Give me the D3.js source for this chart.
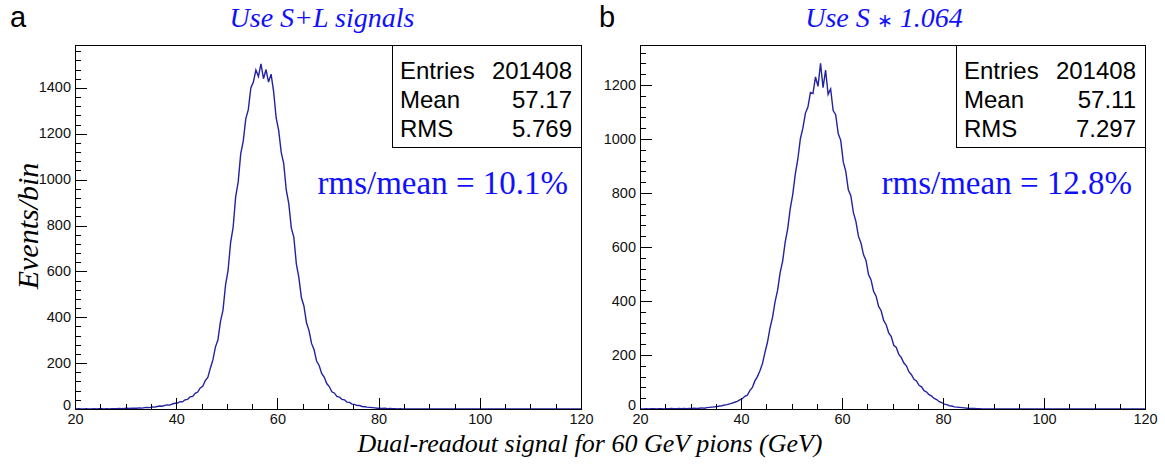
<!DOCTYPE html>
<html>
<head>
<meta charset="utf-8">
<script src="https://cdn.jsdelivr.net/npm/d3@7/dist/d3.min.js"></script>
<style>
  body { margin: 0; background: #fff; }
  .sans { font-family: "Liberation Sans", Arial, Helvetica, sans-serif; }
  .serif { font-family: "Liberation Serif", "Times New Roman", serif; }
</style>
</head>
<body>
<svg id="chart" width="1165" height="466"></svg>
<script>
'use strict';

// histogram binning (GeV)
const binStart = 20;
const binWidth = 0.5;
const xTicks = [20, 40, 60, 80, 100, 120];

// panel a : S+L signals, counts per 0.5 GeV bin starting at 20 GeV
const countsSL = [
  0, 1, 0, 0, 1, 0, 0, 1, 0, 1, 1, 0, 1, 0, 1, 1,
  1, 2, 1, 2, 3, 2, 3, 4, 3, 5,
  4, 6, 7, 6, 9, 8, 11, 13, 12, 16,
  18, 17, 22, 25, 26, 32, 31, 40, 42, 53,
  55, 68, 74, 92, 99, 124, 138, 178, 214, 270,
  302, 382, 431, 540, 604, 725, 792, 925, 990, 1112,
  1168, 1265, 1305, 1400, 1425, 1478, 1450, 1505, 1440, 1480,
  1425, 1460, 1385, 1270, 1215, 1120, 1070, 955, 895, 790,
  748, 632, 572, 485, 448, 376, 342, 286, 258, 209,
  190, 155, 139, 111, 98, 75, 70, 55, 52, 42,
  40, 30, 29, 21, 20, 15, 15, 11, 10, 8,
  7, 6, 5, 3, 4, 2, 3, 1, 2, 1,
  1, 0, 1, 0
];
const yTicksSL = [0, 200, 400, 600, 800, 1000, 1200, 1400];
const yMaxSL = 1587;
const statsSL = [['Entries', '201408'], ['Mean', '57.17'], ['RMS', '5.769']];

// panel b : S * 1.064
const countsS = [
  0, 0, 1, 0, 1, 1, 0, 1, 1, 0, 1, 1, 2, 1, 1, 2,
  1, 2, 1, 2, 2, 3, 2, 3, 4, 3,
  5, 6, 7, 8, 9, 11, 12, 15, 16, 19,
  22, 25, 28, 34, 38, 47, 51, 68, 80, 104,
  120, 142, 168, 210, 248, 300, 340, 398, 440, 505,
  548, 618, 668, 742, 795, 870, 925, 1000, 1040, 1095,
  1118, 1172, 1168, 1230, 1195, 1280, 1190, 1255, 1165, 1185,
  1105, 1090, 1020, 995, 915, 880, 812, 790, 728, 695,
  640, 615, 572, 550, 498, 478, 436, 418, 380, 364,
  328, 312, 282, 268, 236, 228, 202, 190, 170, 160,
  138, 127, 110, 104, 88, 82, 68, 63, 53, 48,
  39, 35, 27, 24, 18, 16, 12, 11, 8, 7,
  6, 5, 4, 3, 2, 2, 2, 1, 1, 0
];
const yTicksS = [0, 200, 400, 600, 800, 1000, 1200];
const yMaxS = 1348;
const statsS = [['Entries', '201408'], ['Mean', '57.11'], ['RMS', '7.297']];

const panels = [
  { letter: 'a', title: ['Use S+L signals'], ratio: 'rms/mean = 10.1%',
    counts: countsSL, yTicks: yTicksSL, yMax: yMaxSL, stats: statsSL, x0: 75, x1: 581, lx: 10, tx: 322 },
  { letter: 'b', title: ['Use S ', '\u2217', ' 1.064'], ratio: 'rms/mean = 12.8%',
    counts: countsS, yTicks: yTicksS, yMax: yMaxS, stats: statsS, x0: 640, x1: 1145, lx: 599, tx: 884 }
];

const frameTop = 45, frameBottom = 409;
const histColor = '#2222a2';
const textBlue = '#1010ff';

const $svg = d3.select('#chart');

const drawPanel = (p) => {
  const $g = $svg.append('g');
  const x = d3.scaleLinear().domain([20, 120]).range([p.x0, p.x1]);
  const y = d3.scaleLinear().domain([0, p.yMax]).range([frameBottom, frameTop]);

  // frame
  $g.append('rect')
    .attr('x', p.x0).attr('y', frameTop)
    .attr('width', p.x1 - p.x0).attr('height', frameBottom - frameTop)
    .attr('fill', 'none').attr('stroke', '#000').attr('stroke-width', 1)
    .attr('shape-rendering', 'crispEdges');

  // histogram outline (through bin centres, fine bins look like a jagged line)
  const pts = [[20, 0]];
  p.counts.forEach((c, i) => {
    pts.push([binStart + (i + 0.5) * binWidth, c]);
  });
  pts.push([binStart + p.counts.length * binWidth, 0], [120, 0]);
  const line = d3.line().x((d) => x(d[0])).y((d) => y(d[1]));
  $g.append('path')
    .attr('d', line(pts))
    .attr('fill', 'none')
    .attr('stroke', histColor)
    .attr('stroke-width', 1.4)
    .attr('stroke-linejoin', 'miter');

  // x axis
  const $xMinor = $g.append('g').attr('transform', 'translate(0,' + frameBottom + ')')
    .call(d3.axisBottom(x).tickValues(d3.range(20, 121, 5)).tickSize(-5.5).tickFormat(''));
  const $xMajor = $g.append('g').attr('transform', 'translate(0,' + frameBottom + ')')
    .call(d3.axisBottom(x).tickValues(xTicks).tickSize(-11).tickPadding(5).tickFormat(d3.format('d')));

  // y axis
  const $yMinor = $g.append('g').attr('transform', 'translate(' + p.x0 + ',0)')
    .call(d3.axisLeft(y).tickValues(d3.range(0, p.yMax, 40)).tickSize(-6).tickFormat(''));
  const $yMajor = $g.append('g').attr('transform', 'translate(' + p.x0 + ',0)')
    .call(d3.axisLeft(y).tickValues(p.yTicks).tickSize(-12).tickPadding(4).tickFormat(d3.format('d')));

  [$xMinor, $xMajor, $yMinor, $yMajor].forEach(($a) => {
    $a.select('.domain').remove();
    $a.selectAll('line').attr('stroke', '#000').attr('shape-rendering', 'crispEdges');
    $a.selectAll('text')
      .attr('class', 'sans')
      .attr('font-size', 14.5)
      .attr('fill', '#111');
  });
  $yMajor.selectAll('text').attr('dy', (d) => d === 0 ? '0.05em' : '0.28em');
  $g.append('line')
    .attr('x1', p.x0).attr('x2', p.x1).attr('y1', frameBottom).attr('y2', frameBottom)
    .attr('stroke', '#000').attr('shape-rendering', 'crispEdges');

  // stats box
  const bw = 189, bh = 102;
  $g.append('rect')
    .attr('x', p.x1 - bw).attr('y', frameTop)
    .attr('width', bw).attr('height', bh)
    .attr('fill', '#fff').attr('stroke', '#000')
    .attr('shape-rendering', 'crispEdges');
  p.stats.forEach((s, i) => {
    const by = 79 + i * 29;
    $g.append('text').attr('class', 'sans')
      .attr('x', p.x1 - bw + 8).attr('y', by)
      .attr('font-size', 24).text(s[0]);
    $g.append('text').attr('class', 'sans')
      .attr('x', p.x1 - 9).attr('y', by)
      .attr('text-anchor', 'end')
      .attr('font-size', 24).text(s[1]);
  });

  // ratio text
  $g.append('text').attr('class', 'serif')
    .attr('x', p.x1 - 13).attr('y', 194)
    .attr('text-anchor', 'end')
    .attr('font-size', 33)
    .attr('fill', textBlue)
    .text(p.ratio);

  // title (the operator glyph is set smaller)
  const $title = $g.append('text').attr('class', 'serif')
    .attr('x', p.tx).attr('y', 27)
    .attr('text-anchor', 'middle')
    .attr('font-size', 28)
    .attr('font-style', 'italic')
    .attr('fill', textBlue);
  p.title.forEach((part) => {
    const $t = $title.append('tspan').text(part);
    if (part === '\u2217') $t.attr('font-size', 19).attr('font-style', 'normal');
  });

  // panel letter
  $g.append('text').attr('class', 'sans')
    .attr('x', p.lx).attr('y', 27)
    .attr('font-size', 29)
    .text(p.letter);
};

panels.forEach(drawPanel);

// shared axis titles
$svg.append('text').attr('class', 'serif')
  .attr('transform', 'translate(38,226) rotate(-90)')
  .attr('text-anchor', 'middle')
  .attr('font-size', 30)
  .attr('font-style', 'italic')
  .text('Events/bin');

$svg.append('text').attr('class', 'serif')
  .attr('x', 590).attr('y', 452)
  .attr('text-anchor', 'middle')
  .attr('font-size', 26)
  .attr('font-style', 'italic')
  .text('Dual-readout signal for 60 GeV pions (GeV)');
</script>
</body>
</html>
